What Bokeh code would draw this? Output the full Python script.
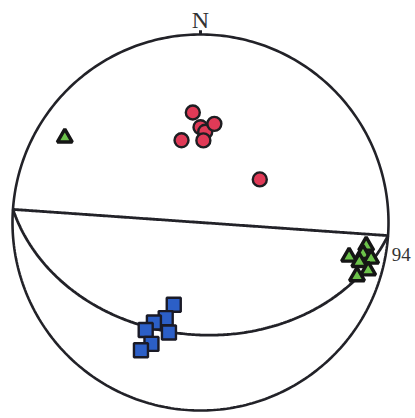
import numpy as np
from bokeh.plotting import figure
from bokeh.models import Range1d
from bokeh.embed import file_html
from bokeh.resources import INLINE
from bokeh.core.properties import value

# ---- data (trend / plunge in degrees, lower-hemisphere equal-area net) ----
plane_strike = 94
vertical_dip = 90
inclined_dip = 40
strike_label = ["94"]
north_label = ["N"]

red_trend = [356, 0, 3, 8, 347, 2, 54]
red_plunge = [41, 48, 50, 46, 53, 54, 58]

green_trend = [98, 103, 101, 102, 104, 106, 109, 302]
green_plunge = [12, 20, 13, 8, 14, 8, 13, 16]

blue_trend = [198, 200, 205, 207, 196, 202, 205]
blue_plunge = [52, 45, 41, 36, 39, 31, 26]


def proj(trend, plunge):
    t = np.radians(np.asarray(trend, dtype=float))
    p = np.radians(np.asarray(plunge, dtype=float))
    r = np.sqrt(2) * np.sin((np.pi / 2 - p) / 2)
    return r * np.sin(t), r * np.cos(t)


def great_circle(strike, dip, n=241):
    s = np.radians(strike)
    d = np.radians(dip)
    t = np.linspace(0, np.pi, n)
    sv = np.array([np.sin(s), np.cos(s), 0.0])
    dd = s + np.pi / 2
    dv = np.array([np.cos(d) * np.sin(dd), np.cos(d) * np.cos(dd), np.sin(d)])
    v = np.outer(np.cos(t), sv) + np.outer(np.sin(t), dv)
    plunge = np.degrees(np.arcsin(np.clip(v[:, 2], -1, 1)))
    trend = np.degrees(np.arctan2(v[:, 0], v[:, 1]))
    return proj(trend, plunge)


R = 188.0
W, H = 415, 418
CX, CY = 200.0, 222.0
p = figure(width=W, height=H,
           x_range=Range1d(-CX / R, (W - CX) / R),
           y_range=Range1d(-(H - CY) / R, CY / R),
           output_backend="svg", toolbar_location=None, min_border=0)
p.axis.visible = False
p.grid.visible = False
p.outline_line_color = None
p.background_fill_color = "white"
p.border_fill_color = "white"

ink = "#222228"

# primitive circle
a = np.linspace(0, 2 * np.pi, 361)
p.line(np.cos(a), np.sin(a), line_color=ink, line_width=2.6)
# north tick
p.line([0, 0], [1.0, 1.022], line_color=ink, line_width=3)

# great circles
gx, gy = great_circle(plane_strike, vertical_dip)
p.line(gx, gy, line_color=ink, line_width=2.8)
gx2, gy2 = great_circle(plane_strike, inclined_dip)
p.line(gx2, gy2, line_color=ink, line_width=2.8)

# points
rx, ry = proj(red_trend, red_plunge)
p.scatter(rx, ry, marker="circle", size=14, fill_color="#e03a57",
          line_color="#1e1e22", line_width=2.4)

bx, by = proj(blue_trend, blue_plunge)
p.scatter(bx, by, marker="square", size=14, fill_color="#2c5fc7",
          line_color="#1a1a26", line_width=2.4)

tx, ty = proj(green_trend, green_plunge)
p.scatter(tx, ty, marker="triangle", size=15, fill_color="#6cc24a",
          line_color="#151515", line_width=3.4)

# labels
nx, ny = proj([0], [0])
p.text(x=nx, y=ny * 1.075, text=north_label, text_align="center",
       text_baseline="alphabetic", text_font=value("Liberation Serif"),
       text_font_size="24px", text_color="#333333")
sx, sy = proj([plane_strike], [0])
p.text(x=sx + 0.02, y=sy - 0.1, text=strike_label, text_align="left",
       text_baseline="alphabetic", text_font=value("Liberation Serif"),
       text_font_size="19px", text_color="#333333")

open("out.html", "w").write(file_html(p, INLINE))
